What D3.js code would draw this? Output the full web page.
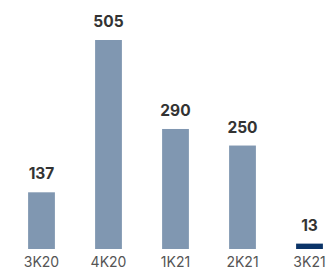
<!DOCTYPE html>
<html>
<head>
<meta charset="utf-8">
<script src="https://cdn.jsdelivr.net/npm/d3@7"></script>
<style>
  body { margin: 0; background: #fff; }
</style>
</head>
<body>
<div id="chart"></div>
<script>
var categories = ["3K20", "4K20", "1K21", "2K21", "3K21"];
var values = [137, 505, 290, 250, 13];
var colors = ["#8097b1", "#8097b1", "#8097b1", "#8097b1", "#0b3468"];

var width = 327, height = 270;
var baseY = 249;

var svg = d3.select("#chart").append("svg")
	.attr("width", width)
	.attr("height", height);

var x = d3.scaleBand()
	.domain(categories)
	.range([8, 343])
	.paddingInner(0.6)
	.paddingOuter(0.3);

var y = d3.scaleLinear()
	.domain([0, 505])
	.range([baseY, 40]);

// bars
svg.selectAll("rect.bar")
	.data(values)
	.enter()
	.append("rect")
	.attr("class", "bar")
	.attr("x", function(d, i){ return x(categories[i]); })
	.attr("y", function(d){ return y(d); })
	.attr("width", x.bandwidth())
	.attr("height", function(d){ return baseY - y(d); })
	.attr("fill", function(d, i){ return colors[i]; });

// value labels
svg.selectAll("text.val")
	.data(values)
	.enter()
	.append("text")
	.attr("class", "val")
	.attr("x", function(d, i){ return x(categories[i]) + x.bandwidth() / 2; })
	.attr("y", function(d){ return y(d) - 13; })
	.attr("text-anchor", "middle")
	.attr("font-family", "Inter, sans-serif")
	.attr("font-weight", "bold")
	.attr("font-size", 15.5)
	.attr("fill", "#333")
	.text(function(d){ return d; });

// category axis
var xAxis = d3.axisBottom(x).tickSize(0).tickPadding(8);
var gx = svg.append("g")
	.attr("transform", "translate(0," + baseY + ")")
	.call(xAxis);
gx.select(".domain").remove();
gx.selectAll("text")
	.attr("font-family", "Inter, sans-serif")
	.attr("font-size", 14)
	.attr("fill", "#555");
</script>
</body>
</html>
